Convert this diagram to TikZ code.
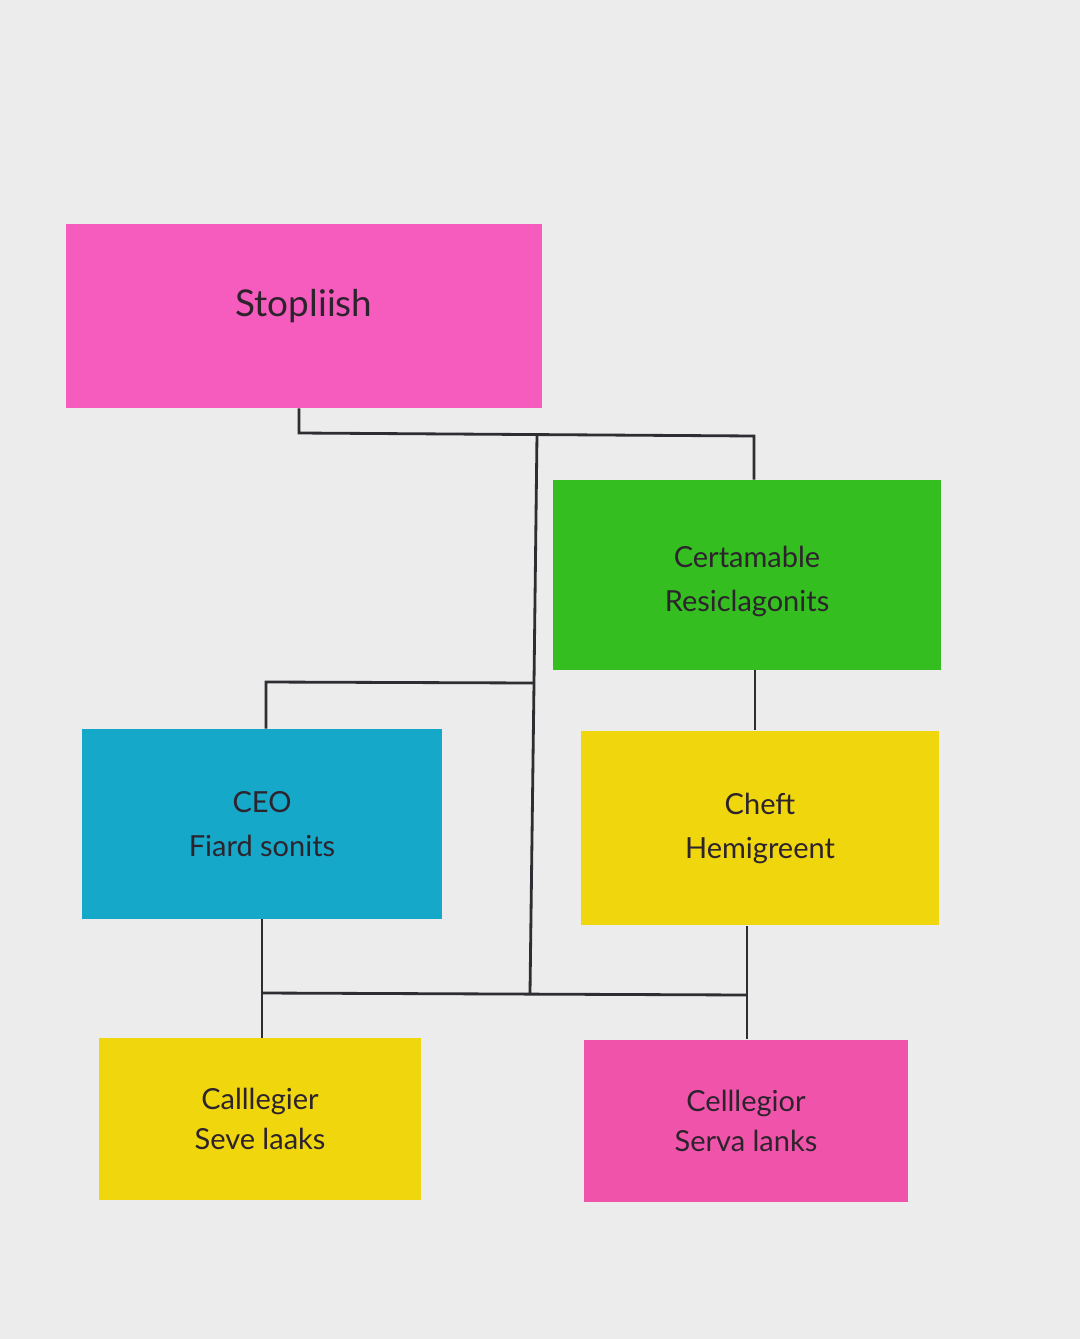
\documentclass[tikz,border=0pt]{standalone}
\usepackage{fontspec}
\setmainfont{Lato}
\definecolor{bg}{RGB}{236,236,236}
\definecolor{notepink}{RGB}{246,92,190}
\definecolor{notegreen}{RGB}{52,190,32}
\definecolor{notecyan}{RGB}{22,168,200}
\definecolor{noteyellow}{RGB}{240,214,12}
\definecolor{notemagenta}{RGB}{240,84,170}
\definecolor{ink}{RGB}{45,35,45}
\definecolor{wire}{RGB}{45,45,50}
\tikzset{
    note/.style = {rectangle, inner sep = 0pt, align = center, text = ink,
        font = \fontsize{16.5}{25}\selectfont},
    smallnote/.style = {note, font = \fontsize{16.5}{23}\selectfont},
    wire/.style = {draw = wire, line width = 1.6pt}
}
\begin{document}
\begin{tikzpicture}[x = 0.02cm, y = -0.02cm]
        \fill[bg] (0,0) rectangle (1080,1339);
        \useasboundingbox (0,0) rectangle (1080,1339);
        % notes
        \node[note, fill = notepink, minimum width = 9.52cm, minimum height = 3.68cm,
            font = \fontsize{21}{25}\selectfont] (top) at (304,316) {\raisebox{0pt}[0pt][0pt]{Stopliish}};
        \node[note, fill = notegreen, minimum width = 7.76cm, minimum height = 3.8cm] (green) at (747,575) {\rule{0pt}{19pt}Certamable\\Resiclagonits};
        \node[note, fill = notecyan, minimum width = 7.22cm, minimum height = 3.8cm] (ceo) at (262,824) {CEO\\Fiard sonits};
        \node[note, fill = noteyellow, minimum width = 7.16cm, minimum height = 3.9cm] (cheft) at (760,828) {Cheft\\Hemigreent};
        \node[smallnote, fill = noteyellow, minimum width = 6.46cm, minimum height = 3.24cm] (call) at (260,1119) {Calllegier\\Seve laaks};
        \node[smallnote, fill = notemagenta, minimum width = 6.5cm, minimum height = 3.26cm] (cell) at (746,1121) {Celllegior\\Serva lanks};
        % junctions
        \coordinate (ja) at (299,433);
        \coordinate (jb) at (537,434);
        \coordinate (jc) at (754,436);
        \coordinate (jd) at (534,683);
        \coordinate (je) at (266,682);
        \coordinate (jf) at (755,700);
        \coordinate (jg) at (262,993);
        \coordinate (jh) at (530,993);
        \coordinate (ji) at (747,995);
        \begin{scope}[style = wire]
            \draw (top.south -| ja) -- (ja) -- (jc) -- (green.north -| jc);
            \draw (jb) -- (jd) -- (jh);
            \draw (jd) -- (je) -- (ceo.north -| je);
            \draw (green.south -| jf) -- (cheft.north -| jf);
            \draw (ceo.south -| jg) -- (call.north -| jg);
            \draw (jg) -- (ji);
            \draw (cheft.south -| ji) -- (cell.north -| ji);
        \end{scope}
    \end{tikzpicture}
\end{document}
